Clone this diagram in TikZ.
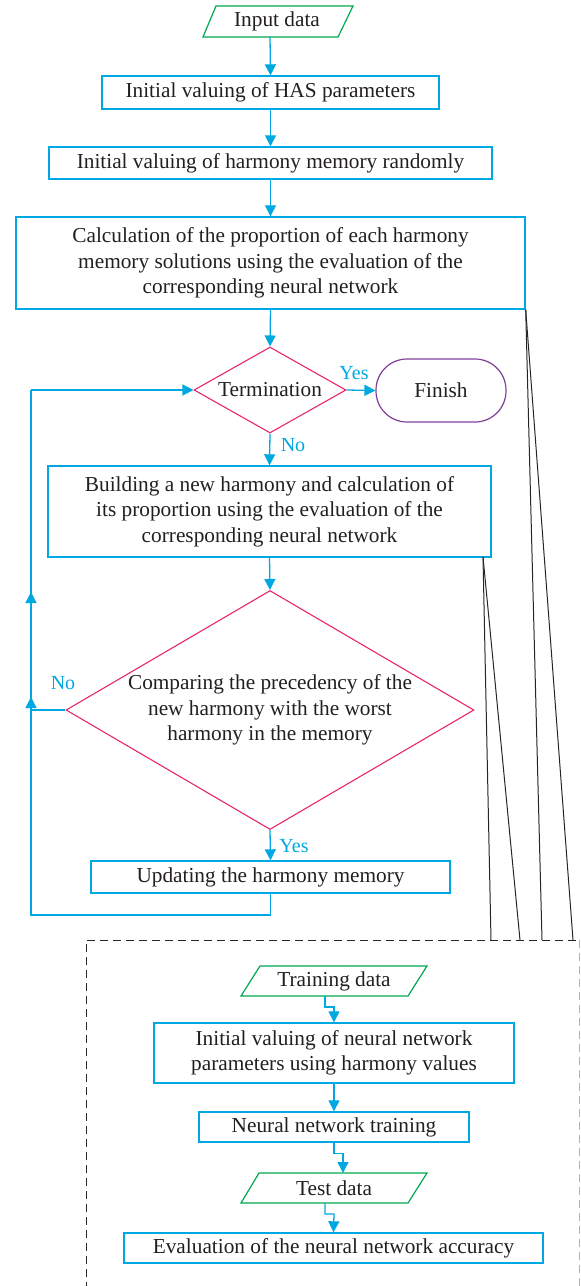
\documentclass[tikz,border=0pt]{standalone}
\usepackage{fontspec}
\setmainfont{Liberation Serif}
\usetikzlibrary{arrows.meta,shapes.geometric}
\definecolor{cyanC}{RGB}{0,168,226}
\definecolor{magC}{RGB}{232,38,110}
\definecolor{greenC}{RGB}{0,168,80}
\definecolor{purpleC}{RGB}{128,64,152}
\definecolor{textC}{RGB}{35,31,32}
\tikzset{
  txt/.style={font=\fontsize{21.3}{25.5}\selectfont, text=textC, align=center, inner sep=0pt},
  box/.style={txt, draw=cyanC, line width=1.4pt},
  para/.style={draw=greenC, line width=1.2pt},
  dia/.style={draw=magC, line width=1.1pt, diamond, inner sep=0pt},
  fin/.style={txt, draw=purpleC, line width=1.2pt, rounded corners=31pt},
  conn/.style={draw=cyanC, line width=1.3pt},
  arr/.style={conn, -{Triangle[length=11pt,width=11pt]}},
  lbl/.style={font=\fontsize{20}{22}\selectfont, text=cyanC, inner sep=0pt},
  blk/.style={draw=black!85, line width=1pt},
  dsh/.style={draw=black!85, line width=1pt, dash pattern=on 8pt off 5pt}
}
\begin{document}
\begin{tikzpicture}[x=1pt,y=-1pt]
\useasboundingbox (0,0) rectangle (581,1286);
% Input data
\draw[para] (203,37) -- (216,6) -- (353,6) -- (338,37) -- cycle;
\node[txt] (in) at (277,21.5) {Input data};
\coordinate (inB) at (270,37);
% boxes
\node[box, minimum width=337pt, minimum height=33pt] (b1) at (270.5,92.5) {Initial valuing of HAS parameters};
\node[box, minimum width=443pt, minimum height=32pt] (b2) at (270.5,163) {Initial valuing of harmony memory randomly};
\node[box, minimum width=509pt, minimum height=92pt] (b3) at (270.5,263) {Calculation of the proportion of each harmony\\memory solutions using the evaluation of the\\corresponding neural network};
\node[dia, minimum width=152pt, minimum height=86pt] (term) at (270,390) {};
\node[txt] (termT) at (term) {Termination};
\node[fin, minimum width=130pt, minimum height=63pt] (fin) at (441,390.5) {Finish};
\node[box, minimum width=443pt, minimum height=91pt] (b4) at (269.5,511.5) {Building a new harmony and calculation of\\its proportion using the evaluation of the\\corresponding neural network};
\node[dia, minimum width=408pt, minimum height=239pt] (cmp) at (270,710) {};
\node[txt] (cmpT) at (270,710) {Comparing the precedency of the\\new harmony with the worst\\harmony in the memory};
\node[box, minimum width=359pt, minimum height=32pt] (up) at (270.5,877) {Updating the harmony memory};
% labels
\node[lbl] (yes1) at (354,373) {Yes};
\node[lbl] (no1) at (293,445) {No};
\node[lbl] (no2) at (63,683) {No};
\node[lbl] (yes2) at (294,846) {Yes};
% main arrows
\draw[arr] (inB) -- (b1.north);
\draw[arr] (b1.south) -- (b2.north);
\draw[arr] (b2.south) -- (b3.north);
\draw[arr] (b3.south) -- (term.north);
\draw[arr] (term.east) -- (fin.west);
\draw[arr] (term.south) -- (b4.north);
\draw[arr] (b4.south) -- (cmp.north);
\draw[arr] (cmp.south) -- (up.north);
% loop
\coordinate (L1) at (31,915);
\coordinate (L2) at (31,390);
\coordinate (Lm1) at (31,612);
\coordinate (Lm2) at (31,592);
\coordinate (N1) at (31,710);
\coordinate (N2) at (31,697);
\draw[conn] (up.south) |- (L1) -- (L2);
\draw[arr] (L2) -- (term.west);
\draw[arr] (Lm1) -- (Lm2);
\draw[arr] (cmp.west) -- (N1) -- (N2);
% dashed box
\coordinate (DL) at (86,1290);
\coordinate (DT) at (86,940);
\coordinate (DR) at (579.5,940);
\coordinate (DRB) at (579.5,1290);
\draw[dsh] (DL) -- (DT) -- (DR);
\draw[dsh, draw=black!30] (DR) -- (DRB);
% black lines
\coordinate (k1) at (491,940);
\coordinate (k2) at (520,940);
\coordinate (k3) at (542,940);
\coordinate (k4) at (573,940);
\coordinate (s4) at (483,557);
\draw[blk] (s4) -- (k1);
\draw[blk] (s4) -- (k2);
\draw[blk] (b3.south east) -- (k3);
\draw[blk] (b3.south east) -- (k4);
% Training data
\draw[para] (241,996) -- (260,966) -- (427,966) -- (408,996) -- cycle;
\node[txt] (trd) at (334,981) {Training data};
\coordinate (trB) at (325,996);
\node[box, minimum width=360pt, minimum height=60pt] (b5) at (334,1053) {Initial valuing of neural network\\parameters using harmony values};
\draw[arr] (trB) |- ++(9,11) -- (b5.north);
\node[box, minimum width=270pt, minimum height=30pt] (b6) at (334,1127) {Neural network training};
\draw[arr] (b5.south) -- (b6.north);
\draw[para] (241,1203) -- (259,1173) -- (427,1173) -- (408,1203) -- cycle;
\node[txt] (ted) at (334,1188) {Test data};
\coordinate (teT) at (343,1173);
\coordinate (teB) at (325,1203);
\draw[arr] (b6.south) |- ++(9,11) -- (teT);
\node[box, minimum width=419pt, minimum height=30pt] (b7) at (333.5,1248) {Evaluation of the neural network accuracy};
\draw[arr] (teB) |- ++(9,11) -- (b7.north);
\end{tikzpicture}
\end{document}
